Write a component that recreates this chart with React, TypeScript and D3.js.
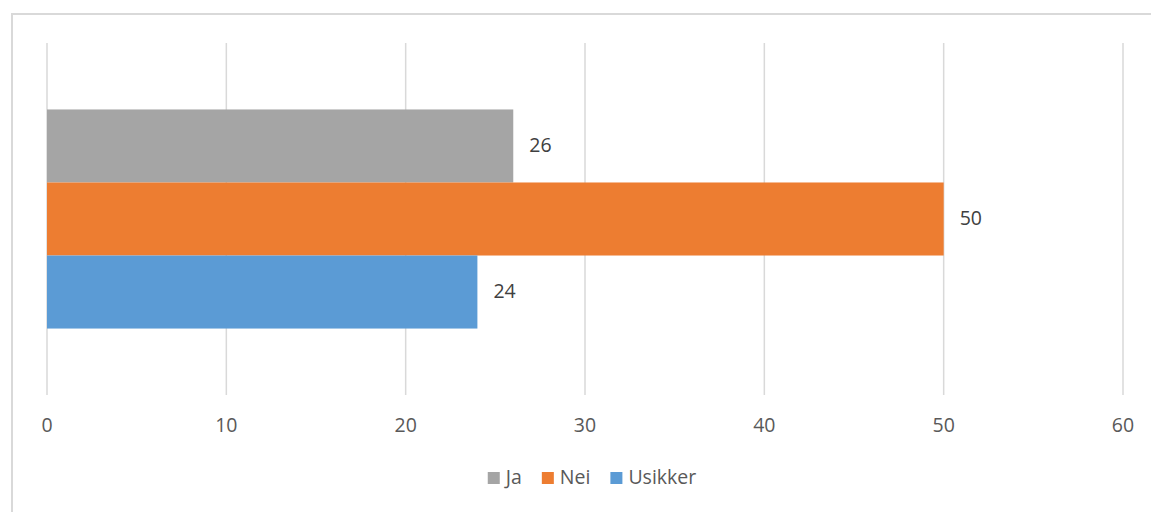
import React, { useRef, useEffect } from "react";
import * as d3 from "d3";

const series = ["Ja", "Nei", "Usikker"];
const values = [26, 50, 24];
const colors = ["#a5a5a5", "#ed7d31", "#5b9bd5"];
const ticks = [0, 10, 20, 30, 40, 50, 60];

const W = 1151;
const H = 512;

const App: React.FC = () => {
  const svgRef = useRef<SVGSVGElement | null>(null);

  useEffect(() => {
    if (!svgRef.current) return;
    const svg = d3.select(svgRef.current);
    svg.selectAll("*").remove();

    const font = '"Open Sans", "Liberation Sans", sans-serif';
    const fs = "19.5px";
    const left = 47;
    const right = 1123;
    const top = 43;
    const bottom = 395;

    // chart frame
    svg.append("rect")
      .attr("x", 12).attr("y", 14)
      .attr("width", W + 20).attr("height", H + 20)
      .attr("fill", "#fff")
      .attr("stroke", "#d9d9d9")
      .attr("stroke-width", 2);

    const x = d3.scaleLinear().domain([0, 60]).range([left, right]);
    const y = d3.scaleBand<string>().domain(series).range([top, bottom]).paddingOuter(0.91).paddingInner(0);

    // gridlines
    svg.append("g")
      .selectAll("line")
      .data(ticks)
      .join("line")
      .attr("x1", (d) => x(d)).attr("x2", (d) => x(d))
      .attr("y1", top).attr("y2", bottom)
      .attr("stroke", "#d9d9d9")
      .attr("stroke-width", 1.5);

    // tick labels
    svg.append("g")
      .selectAll("text")
      .data(ticks)
      .join("text")
      .attr("x", (d) => x(d))
      .attr("y", 427)
      .attr("text-anchor", "middle")
      .attr("dominant-baseline", "middle")
      .attr("fill", "#595959")
      .attr("font-size", fs)
      .attr("font-family", font)
      .text((d) => d);

    // bars
    svg.append("g")
      .selectAll("rect")
      .data(series)
      .join("rect")
      .attr("x", x(0))
      .attr("y", (d) => y(d)!)
      .attr("width", (_, i) => x(values[i]) - x(0))
      .attr("height", y.bandwidth())
      .attr("fill", (_, i) => colors[i]);

    // value labels
    svg.append("g")
      .selectAll("text")
      .data(series)
      .join("text")
      .attr("x", (_, i) => x(values[i]) + 16)
      .attr("y", (d) => y(d)! + y.bandwidth() / 2 + 1)
      .attr("dominant-baseline", "middle")
      .attr("fill", "#404040")
      .attr("font-size", fs)
      .attr("font-family", font)
      .text((_, i) => values[i]);

    // legend
    const lg = svg.append("g");
    let off = 0;
    series.forEach((s, i) => {
      lg.append("rect")
        .attr("x", off).attr("y", 472)
        .attr("width", 12).attr("height", 12)
        .attr("fill", colors[i]);
      const t = lg.append("text")
        .attr("x", off + 18)
        .attr("y", 479)
        .attr("dominant-baseline", "middle")
        .attr("fill", "#595959")
        .attr("font-size", fs)
        .attr("font-family", font)
        .text(s);
      const tw = (t.node() as SVGTextElement).getComputedTextLength();
      off += 18 + tw + (i < series.length - 1 ? 20 : 0);
    });
    lg.attr("transform", `translate(${592 - off / 2},0)`);
  }, []);

  return (
    <svg
      ref={svgRef}
      width={W}
      height={H}
      style={{ position: "absolute", left: 0, top: 0, display: "block" }}
    />
  );
};

export default App;
